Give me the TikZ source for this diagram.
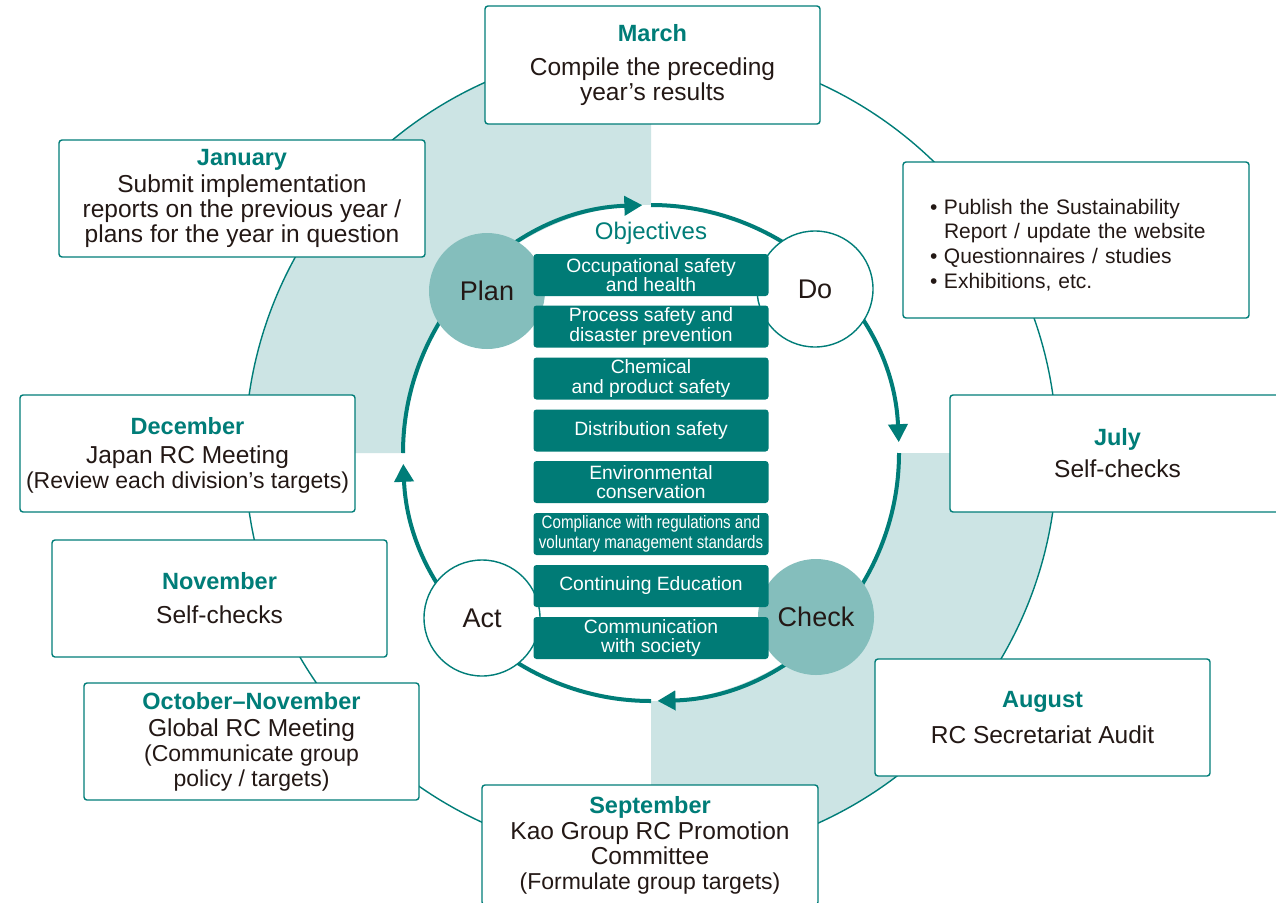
\documentclass[tikz,border=0pt]{standalone}
\usepackage{fontspec}
\setmainfont{Liberation Sans}
\newfontfamily\narrowfont[FakeStretch=0.84]{Liberation Sans}
\usetikzlibrary{arrows.meta}
\definecolor{kteal}{RGB}{0,125,120}
\definecolor{kobj}{RGB}{0,123,118}
\definecolor{kmid}{RGB}{132,190,188}
\definecolor{klight}{RGB}{204,228,228}
\definecolor{ktxt}{RGB}{35,24,21}
\newcommand\mon[1]{{\fontsize{23.5}{25}\selectfont\bfseries\color{kteal}#1}}
\newcommand\paren[1]{{\fontsize{23}{25}\selectfont #1}}
\begin{document}
\begin{tikzpicture}[x=1pt,y=-1pt,
  monthbox/.style={draw=kteal, line width=1.4pt, fill=white, rounded corners=3pt,
    minimum height=117pt, minimum width=335pt, align=center, inner sep=0pt, text=ktxt,
    font=\fontsize{24.5}{25}\selectfont},
  objbox/.style={fill=kobj, rounded corners=3pt, minimum width=235pt, minimum height=42pt,
    inner sep=0pt, text=white, align=center, font=\fontsize{19.3}{19.5}\selectfont},
  pdcafill/.style={circle, fill=kmid, minimum size=116pt, inner sep=0pt, text=ktxt,
    font=\fontsize{27}{30}\selectfont},
  pdcaopen/.style={circle, draw=kteal, line width=1.4pt, fill=white, minimum size=116pt,
    inner sep=0pt, text=ktxt, font=\fontsize{27}{30}\selectfont},
  cyclearc/.style={draw=kteal, line width=4pt, -{Triangle[length=18pt,width=19pt]}}
]
\useasboundingbox (0,0) rectangle (1276,902);
\fill[white] (0,0) rectangle (1276,902);
\coordinate (C) at (651,453);
% shaded quadrants
\fill[klight] (C) -- ([shift={(180:406)}]C) arc[start angle=180,end angle=270,radius=406] -- cycle;
\fill[klight] (C) -- ([shift={(0:406)}]C) arc[start angle=0,end angle=90,radius=406] -- cycle;
% outer ring
\draw[kteal, line width=1.4pt] (C) circle[radius=406];
% inner disk
\fill[white] (C) circle[radius=248];
% cycle arcs
\draw[cyclearc] ([shift={(180:248)}]C) arc[start angle=180,end angle=268,radius=248];
\draw[cyclearc] ([shift={(270:248)}]C) arc[start angle=270,end angle=357.5,radius=248];
\draw[cyclearc] ([shift={(0:248)}]C) arc[start angle=0,end angle=88.5,radius=248];
\draw[cyclearc] ([shift={(90:248)}]C) arc[start angle=90,end angle=177.5,radius=248];
% PDCA circles
\node[pdcafill] (plan) at (487,291) {Plan};
\node[pdcaopen] (do) at (815,289) {Do};
\node[pdcafill] (check) at (816,617) {Check};
\node[pdcaopen] (act) at (482,618) {Act};
% objectives
\node[text=kteal, font=\fontsize{24}{26}\selectfont] (objt) at (651,233) {Objectives};
\node[objbox] (o1) at (651,275) {Occupational safety\\and health};
\node[objbox] (o2) at (651,326.5) {Process safety and\\disaster prevention};
\node[objbox] (o3) at (651,378.5) {Chemical\\and product safety};
\node[objbox] (o4) at (651,430.5) {Distribution safety};
\node[objbox] (o5) at (651,482) {Environmental\\conservation};
\node[objbox, font=\narrowfont\fontsize{18}{20}\selectfont] (o6) at (651,534) {Compliance with regulations and\\voluntary management standards};
\node[objbox] (o7) at (651,586) {Continuing Education};
\node[objbox] (o8) at (651,638) {Communication\\with society};
% month boxes
\node[monthbox, minimum height=118pt] (mar) at (652.5,65) {\mon{March}\\[9pt]Compile the preceding\\year’s results};
\node[monthbox, minimum width=366pt] (jan) at (242,198.5) {\mon{January}\\[2pt]Submit implementation\\reports on the previous year /\\plans for the year in question};
\node[monthbox, minimum width=346pt, minimum height=156pt, align=left, text width=292pt, inner xsep=27pt,
  font=\fontsize{21}{24.7}\selectfont] (pub) at (1076,240)
  {\rule{0pt}{25pt}\makebox[14pt][l]{\textbullet}Publish the Sustainability\\\hspace*{14pt}Report / update the website\\\makebox[14pt][l]{\textbullet}Questionnaires / studies\\\makebox[14pt][l]{\textbullet}Exhibitions, etc.};
\node[monthbox] (dec) at (187.5,453.5) {\rule{0pt}{21pt}\mon{December}\\[4pt]Japan RC Meeting\\\paren{(Review each division’s targets)}};
\node[monthbox] (jul) at (1117.5,453.5) {\mon{July}\\[7pt]Self-checks};
\node[monthbox] (nov) at (219.5,598.5) {\mon{November}\\[9pt]Self-checks};
\node[monthbox] (oct) at (251.5,741.5) {\mon{October–November}\\[2pt]Global RC Meeting\\\paren{(Communicate group}\\\paren{policy / targets)}};
\node[monthbox] (aug) at (1042.5,717.5) {\mon{August}\\[11pt]RC Secretariat Audit};
\node[monthbox, minimum width=336pt, minimum height=120pt] (sep) at (650,845) {\mon{September}\\[1pt]Kao Group RC Promotion\\Committee\\\paren{(Formulate group targets)}};
\end{tikzpicture}
\end{document}
